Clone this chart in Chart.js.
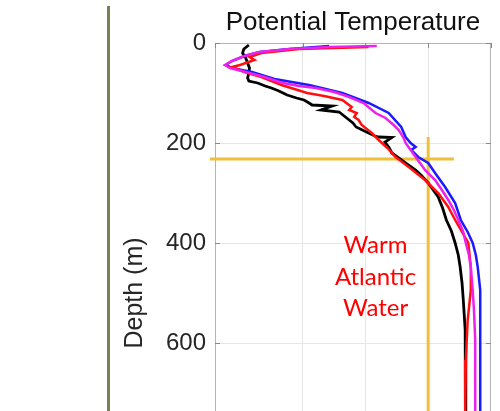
<!DOCTYPE html>
<html><head><meta charset="utf-8">
<script src="https://cdn.jsdelivr.net/npm/chart.js@4/dist/chart.umd.min.js"></script>
<style>
html,body{margin:0;padding:0;background:#fff;overflow:hidden;width:500px;height:411px}
#wrap{position:absolute;left:0;top:0;width:500px;height:600px}
</style></head>
<body><div id="wrap"><canvas id="c" width="500" height="600"></canvas></div>
<script>
// ---- data: [depth (m), potential temperature] ----
const chartTitle = 'Potential Temperature';
const yAxisTitle = 'Depth (m)';
const annotationLines = ['Warm', 'Atlantic', 'Water'];
const annotationPos = [1.16, 468];           // [temp, depth] of text centre
const aawHorizontal = [[232, -1.48], [232, 2.41]];
const aawVertical = [[188, 2.0], [1000, 2.0]];

const blackProfile = [[4,-0.86],[12,-0.94],[20,-0.96],[30,-0.91],[40,-0.88],[50,-0.85],[60,-0.86],[70,-0.88],[76,-0.86],[80,-0.72],[86,-0.60],[90,-0.50],[96,-0.38],[104,-0.25],[110,-0.10],[114,0.02],[120,0.10],[124,0.15],[126,0.47],[134,0.29],[138,0.58],[146,0.66],[154,0.74],[160,0.80],[168,0.85],[174,0.95],[180,1.05],[186,1.15],[188,1.21],[189,1.42],[198,1.31],[210,1.38],[220,1.42],[230,1.53],[242,1.66],[254,1.80],[266,1.90],[280,2.00],[294,2.08],[308,2.16],[330,2.23],[354,2.29],[376,2.37],[400,2.43],[424,2.48],[448,2.51],[480,2.54],[514,2.56],[574,2.59],[650,2.60],[734,2.60],[1000,2.60]];

const redProfile = [[8,1.05],[12,-0.06],[20,-0.66],[28,-0.85],[34,-0.77],[44,-1.00],[48,-1.13],[58,-0.93],[68,-0.66],[84,-0.34],[100,0.07],[106,0.34],[114,0.63],[128,0.78],[134,0.74],[140,0.86],[148,0.82],[154,0.89],[164,0.94],[180,1.10],[194,1.21],[210,1.35],[228,1.48],[248,1.69],[274,1.95],[300,2.16],[328,2.32],[354,2.43],[378,2.54],[400,2.64],[448,2.68],[494,2.68],[554,2.63],[634,2.60],[734,2.59],[1000,2.58]];

const magentaProfile = [[6,1.18],[8,0.42],[12,-0.21],[18,-0.69],[26,-0.93],[36,-1.13],[44,-1.24],[50,-1.16],[60,-0.85],[68,-0.61],[80,-0.32],[86,-0.06],[90,0.21],[98,0.50],[108,0.74],[120,0.97],[140,1.16],[150,1.32],[164,1.45],[174,1.53],[190,1.61],[200,1.64],[214,1.72],[228,1.80],[254,1.95],[274,2.11],[298,2.24],[314,2.32],[334,2.41],[354,2.48],[378,2.56],[400,2.60],[424,2.65],[448,2.68],[494,2.71],[534,2.73],[594,2.75],[734,2.75],[1000,2.75]];

const blueProfile = [[6,0.42],[12,-0.21],[18,-0.69],[26,-0.93],[36,-1.13],[44,-1.23],[50,-1.13],[58,-0.81],[72,-0.45],[84,0.10],[100,0.63],[120,1.05],[140,1.37],[168,1.57],[188,1.64],[200,1.72],[208,1.80],[214,1.73],[228,1.84],[240,2.00],[260,2.11],[288,2.27],[320,2.43],[354,2.52],[378,2.63],[400,2.71],[424,2.76],[448,2.79],[494,2.83],[734,2.83],[1000,2.83]];

const toXY = arr => arr.map(p => ({x: p[1], y: p[0]}));

const lineDs = (data, color, w) => ({
  data: toXY(data), showLine: true, borderColor: color, backgroundColor: color,
  borderWidth: w, pointRadius: 0, tension: 0, fill: false
});

const extras = {
  id: 'extras',
  beforeDraw(chart) {
    const c = chart.ctx, a = chart.chartArea;
    c.save();
    c.fillStyle = '#ffffff';
    c.fillRect(0, 0, chart.width, chart.height);
    c.fillStyle = '#7a7e55';
    c.fillRect(107, 6, 3, chart.height);
    c.fillStyle = '#111111';
    c.font = '26px "Liberation Sans"';
    c.textAlign = 'center';
    c.textBaseline = 'middle';
    c.fillText(chartTitle, (a.left + a.right) / 2, 23);
    c.restore();
  },
  beforeDatasetsDraw(chart) {
    const c = chart.ctx, a = chart.chartArea, ys = chart.scales.y, xs = chart.scales.x;
    c.save();
    c.strokeStyle = '#b5b5b5';
    c.lineWidth = 1;
    c.strokeRect(a.left + 0.5, a.top + 0.5, a.right - a.left - 1, a.bottom - a.top - 1);
    c.strokeStyle = '#8a8a8a';
    c.beginPath();
    ys.ticks.forEach(t => {
      const y = Math.round(ys.getPixelForValue(t.value)) + 0.5;
      c.moveTo(a.left, y); c.lineTo(a.left + 5, y);
      c.moveTo(a.right - 5, y); c.lineTo(a.right, y);
    });
    xs.ticks.forEach(t => {
      const x = Math.round(xs.getPixelForValue(t.value)) + 0.5;
      c.moveTo(x, a.top); c.lineTo(x, a.top + 5);
    });
    c.stroke();
    c.restore();
  },
  afterDatasetsDraw(chart) {
    const c = chart.ctx, xs = chart.scales.x, ys = chart.scales.y;
    const cx = xs.getPixelForValue(annotationPos[0]);
    const cy = ys.getPixelForValue(annotationPos[1]);
    c.save();
    c.fillStyle = '#ff0000';
    c.font = '24px Lato';
    c.textAlign = 'center';
    c.textBaseline = 'middle';
    const lh = 31.5;
    annotationLines.forEach((s, i) => {
      c.fillText(s, cx, cy + (i - (annotationLines.length - 1) / 2) * lh);
    });
    c.restore();
  }
};

new Chart(document.getElementById('c'), {
  type: 'scatter',
  data: {
    datasets: [
      lineDs(magentaProfile, '#ec22ec', 2.5),
      lineDs(redProfile, '#ff1010', 2.5),
      lineDs(blueProfile, '#1a1aff', 2.5),
      lineDs(blackProfile, '#000000', 2.8),
      Object.assign(lineDs(aawHorizontal, '#f0c038', 3), {clip: false}),
      lineDs(aawVertical, '#f0c038', 3)
    ]
  },
  options: {
    responsive: false,
    animation: false,
    devicePixelRatio: 1,
    layout: {padding: {left: 120, right: 7, top: 43, bottom: 17}},
    plugins: {
      legend: {display: false},
      tooltip: {enabled: false},
      title: {display: false}
    },
    scales: {
      x: {
        type: 'linear', min: -1.4, max: 3.0,
        ticks: {stepSize: 1, color: '#262626', font: {family: 'Liberation Sans', size: 22}},
        grid: {color: '#e6e6e6', drawTicks: false},
        border: {display: false},
        afterFit(s) { s.height = 40; }
      },
      y: {
        type: 'linear', reverse: true, min: 0, max: 1000,
        ticks: {stepSize: 200, padding: 9, color: '#262626', font: {family: 'Liberation Sans', size: 24}},
        grid: {color: '#e6e6e6', drawTicks: false},
        border: {display: false},
        title: {display: true, text: yAxisTitle, color: '#262626', padding: {top: 0, bottom: 0},
                font: {family: 'Liberation Sans', size: 25, weight: 'normal'}},
        afterFit(s) { s.width = 95; }
      }
    }
  },
  plugins: [extras]
});
</script></body></html>
